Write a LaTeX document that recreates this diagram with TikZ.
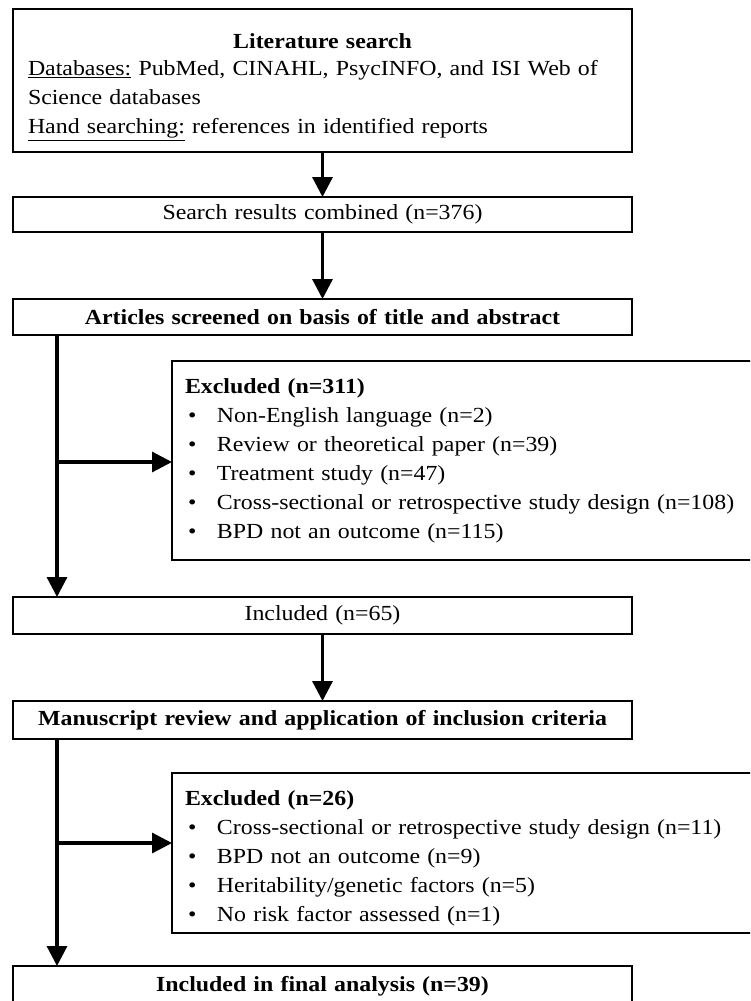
\documentclass[tikz,border=0pt]{standalone}
\usepackage{fontspec}
\setmainfont{Liberation Serif}[FakeStretch=1.11]
\usepackage{tikz}
\usetikzlibrary{calc,arrows.meta}
\definecolor{ink}{HTML}{000000}
\tikzset{
  box/.style={draw=ink, line width=1.2pt, inner xsep=15pt, inner ysep=0pt, outer sep=0pt,
    anchor=north west, text width=589pt, align=center, font=\fontsize{21.5}{29.3}\selectfont},
  exbox/.style={box, text width=574pt, inner xsep=13pt, align=left, font=\fontsize{21.5}{29}\selectfont},
  flow/.style={draw=ink, line width=3.2pt, -{Triangle[length=20pt,width=20pt]}},
}
\newcommand{\exitem}[1]{\\\hspace*{3pt}\makebox[29pt][l]{\textbullet}#1}

\begin{document}
\begin{tikzpicture}[x=1pt, y=-1pt]
  \useasboundingbox (0,0) rectangle (750,1001);
  \clip (0,0) rectangle (750,1001);
  \node[box, align=left, minimum height=143pt] (lit) at (13,9)
    {\rule{0pt}{28pt}\makebox[\hsize]{\textbf{Literature search}}\\[-2.3pt]
     \underline{Databases:} PubMed, CINAHL, PsycINFO, and ISI Web of\\
     Science databases\\
     \underline{Hand searching:} references in identified reports};
  \node[box, minimum height=35pt] (comb) at (13,197) {Search results combined (n=376)};
  \node[box, minimum height=36pt] (screen) at (13,299)
    {\textbf{Articles screened on basis of title and abstract}};
  \node[exbox, minimum height=199pt] (ex1) at (172,361)
    {\textbf{Excluded (n=311)}
     \exitem{Non-English language (n=2)}
     \exitem{Review or theoretical paper (n=39)}
     \exitem{Treatment study (n=47)}
     \exitem{Cross-sectional or retrospective study design (n=108)}
     \exitem{BPD not an outcome (n=115)}};
  \node[box, minimum height=37pt] (incl) at (13,597) {Included (n=65)};
  \node[box, minimum height=38pt] (review) at (13,701)
    {\textbf{Manuscript review and application of inclusion criteria}};
  \node[exbox, minimum height=160pt] (ex2) at (172,773)
    {\rule{0pt}{25pt}\textbf{Excluded (n=26)}
     \exitem{Cross-sectional or retrospective study design (n=11)}
     \exitem{BPD not an outcome (n=9)}
     \exitem{Heritability/genetic factors (n=5)}
     \exitem{No risk factor assessed (n=1)}};
  \node[box, minimum height=40pt] (final) at (13,966)
    {\textbf{Included in final analysis (n=39)}};

  \coordinate (j1) at (57,462); % branch to first exclusion
  \coordinate (j2) at (57,843); % branch to second exclusion
  \draw[flow] (lit.south) -- (comb.north);
  \draw[flow] (comb.south) -- (screen.north);
  \draw[flow] (screen.south -| j1) -- (incl.north -| j1);
  \draw[flow] (j1) -- (j1 -| ex1.west);
  \draw[flow] (incl.south) -- (review.north);
  \draw[flow] (review.south -| j2) -- (final.north -| j2);
  \draw[flow] (j2) -- (j2 -| ex2.west);
\end{tikzpicture}
\end{document}
